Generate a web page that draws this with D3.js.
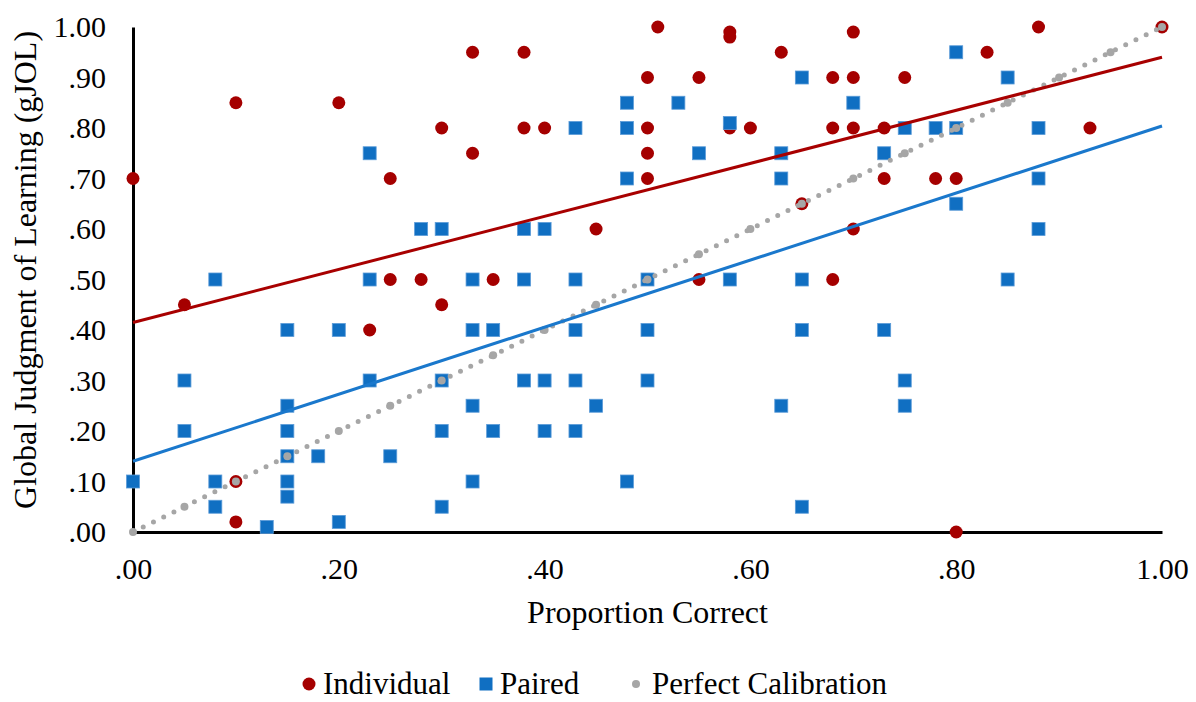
<!DOCTYPE html>
<html>
<head>
<meta charset="utf-8">
<script src="https://cdn.jsdelivr.net/npm/d3@7"></script>
<style>
  body { margin: 0; background: #fff; }
  text { font-family: "Liberation Serif", "Times New Roman", serif; fill: #000; }
</style>
</head>
<body>
<svg id="chart" width="1196" height="702"></svg>
<script>
// Individual (red circles)
let indivX = [0.00, 0.05, 0.10, 0.10, 0.10, 0.20, 0.23, 0.25, 0.25, 0.28,
              0.30, 0.30, 0.33, 0.33, 0.33, 0.35, 0.38, 0.38, 0.40, 0.45,
              0.50, 0.50, 0.50, 0.50, 0.51, 0.55, 0.55, 0.58, 0.58, 0.58,
              0.60, 0.63, 0.65, 0.68, 0.68, 0.68, 0.70, 0.70, 0.70, 0.70,
              0.73, 0.73, 0.75, 0.78, 0.80, 0.80, 0.83, 0.88, 0.93, 1.00]
let indivY = [0.70, 0.45, 0.85, 0.10, 0.02, 0.85, 0.40, 0.70, 0.50, 0.50,
              0.80, 0.45, 0.95, 0.75, 0.50, 0.50, 0.95, 0.80, 0.80, 0.60,
              0.90, 0.80, 0.75, 0.70, 1.00, 0.90, 0.50, 0.99, 0.98, 0.80,
              0.80, 0.95, 0.65, 0.90, 0.80, 0.50, 0.99, 0.90, 0.80, 0.60,
              0.80, 0.70, 0.90, 0.70, 0.70, 0.00, 0.95, 1.00, 0.80, 1.00]

// Paired (blue squares)
let pairedX = [0.00, 0.05, 0.05, 0.08, 0.08, 0.08, 0.13, 0.15, 0.15, 0.15,
               0.15, 0.15, 0.15, 0.18, 0.20, 0.20, 0.23, 0.23, 0.23, 0.25,
               0.28, 0.30, 0.30, 0.30, 0.30, 0.33, 0.33, 0.33, 0.33, 0.35,
               0.35, 0.38, 0.38, 0.38, 0.40, 0.40, 0.40, 0.43, 0.43, 0.43,
               0.43, 0.43, 0.45, 0.48, 0.48, 0.48, 0.48, 0.50, 0.50, 0.50,
               0.53, 0.55, 0.58, 0.58, 0.63, 0.63, 0.63, 0.65, 0.65, 0.65,
               0.65, 0.70, 0.73, 0.73, 0.75, 0.75, 0.75, 0.78, 0.80, 0.80,
               0.80, 0.85, 0.85, 0.88, 0.88, 0.88]
let pairedY = [0.10, 0.30, 0.20, 0.50, 0.10, 0.05, 0.01, 0.40, 0.25, 0.20,
               0.15, 0.10, 0.07, 0.15, 0.40, 0.02, 0.75, 0.50, 0.30, 0.15,
               0.60, 0.60, 0.30, 0.20, 0.05, 0.40, 0.25, 0.10, 0.50, 0.40,
               0.20, 0.60, 0.50, 0.30, 0.60, 0.30, 0.20, 0.80, 0.50, 0.40,
               0.30, 0.20, 0.25, 0.85, 0.80, 0.70, 0.10, 0.50, 0.40, 0.30,
               0.85, 0.75, 0.81, 0.50, 0.75, 0.70, 0.25, 0.90, 0.50, 0.40,
               0.05, 0.85, 0.75, 0.40, 0.80, 0.30, 0.25, 0.80, 0.95, 0.80,
               0.65, 0.90, 0.50, 0.80, 0.70, 0.60]

// Linear trend lines: [Individual, Paired]
let trendIntercept = [0.415, 0.140]
let trendSlope = [0.525, 0.664]

// Perfect calibration reference points
let calib = [0.00, 0.05, 0.10, 0.15, 0.20, 0.25, 0.30, 0.35, 0.40, 0.45, 0.50,
             0.55, 0.60, 0.65, 0.70, 0.75, 0.80, 0.85, 0.90, 0.95, 1.00]

let xTicks = [0, 0.2, 0.4, 0.6, 0.8, 1]
let xTickLabels = ['.00', '.20', '.40', '.60', '.80', '1.00']
let yTicks = [0, 0.1, 0.2, 0.3, 0.4, 0.5, 0.6, 0.7, 0.8, 0.9, 1]
let yTickLabels = ['.00', '.10', '.20', '.30', '.40', '.50', '.60', '.70', '.80', '.90', '1.00']

let seriesNames = ['Individual', 'Paired', 'Perfect Calibration']

let red = '#a50000'
let blue = '#106fc2'
let grey = '#a6a6a6'

let svg = d3.select('#chart')

// 绘图区
let plotLeft = 133, plotRight = 1162, plotTop = 27, plotBottom = 532

let x = d3.scaleLinear().domain([0, 1]).range([plotLeft, plotRight])
let y = d3.scaleLinear().domain([0, 1]).range([plotBottom, plotTop])

// 坐标轴
let yAxis = svg.append('g')
    .attr('transform', `translate(${plotLeft},0)`)
    .call(d3.axisLeft(y).tickValues(yTicks).tickSize(0).tickPadding(27)
      .tickFormat((d, i) => yTickLabels[i]))
yAxis.select('.domain').attr('stroke', '#000').attr('stroke-width', 3)
yAxis.selectAll('text').style('font-size', '30px').attr('font-family', null)

let xAxis = svg.append('g')
    .attr('transform', `translate(0,${plotBottom})`)
    .call(d3.axisBottom(x).tickValues(xTicks).tickSize(0).tickPadding(26)
      .tickFormat((d, i) => xTickLabels[i]))
xAxis.select('.domain').attr('stroke', '#000').attr('stroke-width', 3)
xAxis.selectAll('text').style('font-size', '30px').attr('font-family', null)

svg.append('text')
    .attr('x', (plotLeft + plotRight) / 2)
    .attr('y', 623)
    .attr('text-anchor', 'middle')
    .style('font-size', '32px')
    .text('Proportion Correct')

svg.append('text')
    .attr('transform', 'translate(36,270) rotate(-90)')
    .attr('text-anchor', 'middle')
    .style('font-size', '32px')
    .text('Global Judgment of Learning (gJOL)')

// 散点
svg.append('g')
    .selectAll('circle')
    .data(indivX)
    .enter()
    .append('circle')
    .attr('cx', d => x(d))
    .attr('cy', (d, i) => y(indivY[i]))
    .attr('r', 6.5)
    .attr('fill', red)

svg.append('g')
    .selectAll('rect')
    .data(pairedX)
    .enter()
    .append('rect')
    .attr('x', d => x(d) - 6.5)
    .attr('y', (d, i) => y(pairedY[i]) - 6.5)
    .attr('width', 13)
    .attr('height', 13)
    .attr('fill', blue)
    .attr('stroke', '#5b9bd8')
    .attr('stroke-width', 0.8)

// 完美校准线
svg.append('path')
    .attr('d', d3.line().x(d => x(d)).y(d => y(d))(calib))
    .attr('fill', 'none')
    .attr('stroke', grey)
    .attr('stroke-width', 5)
    .attr('stroke-linecap', 'round')
    .attr('stroke-dasharray', '0,11.4')

svg.append('g')
    .selectAll('circle')
    .data(calib)
    .enter()
    .append('circle')
    .attr('cx', d => x(d))
    .attr('cy', d => y(d))
    .attr('r', 4)
    .attr('fill', grey)

// 趋势线
let trendColors = ['#a80000', '#1a78cc']
svg.append('g')
    .selectAll('line')
    .data(trendIntercept)
    .enter()
    .append('line')
    .attr('x1', x(0))
    .attr('y1', d => y(d))
    .attr('x2', x(1))
    .attr('y2', (d, i) => y(d + trendSlope[i]))
    .attr('stroke', (d, i) => trendColors[i])
    .attr('stroke-width', 3)

// 图例
let legend = svg.append('g').attr('transform', 'translate(0,684)')
let legendX = [309, 486, 636]
legend.append('circle').attr('cx', legendX[0]).attr('cy', 0).attr('r', 6.5).attr('fill', red)
legend.append('rect').attr('x', legendX[1] - 6.5).attr('y', -6.5).attr('width', 13).attr('height', 13)
    .attr('fill', blue)
legend.append('circle').attr('cx', legendX[2]).attr('cy', 0).attr('r', 4).attr('fill', grey)
legend.selectAll('text')
    .data(seriesNames)
    .enter()
    .append('text')
    .attr('x', (d, i) => legendX[i] + (i === 2 ? 16 : 14))
    .attr('y', 0)
    .attr('dy', '0.32em')
    .style('font-size', '31px')
    .text(d => d)
</script>
</body>
</html>
